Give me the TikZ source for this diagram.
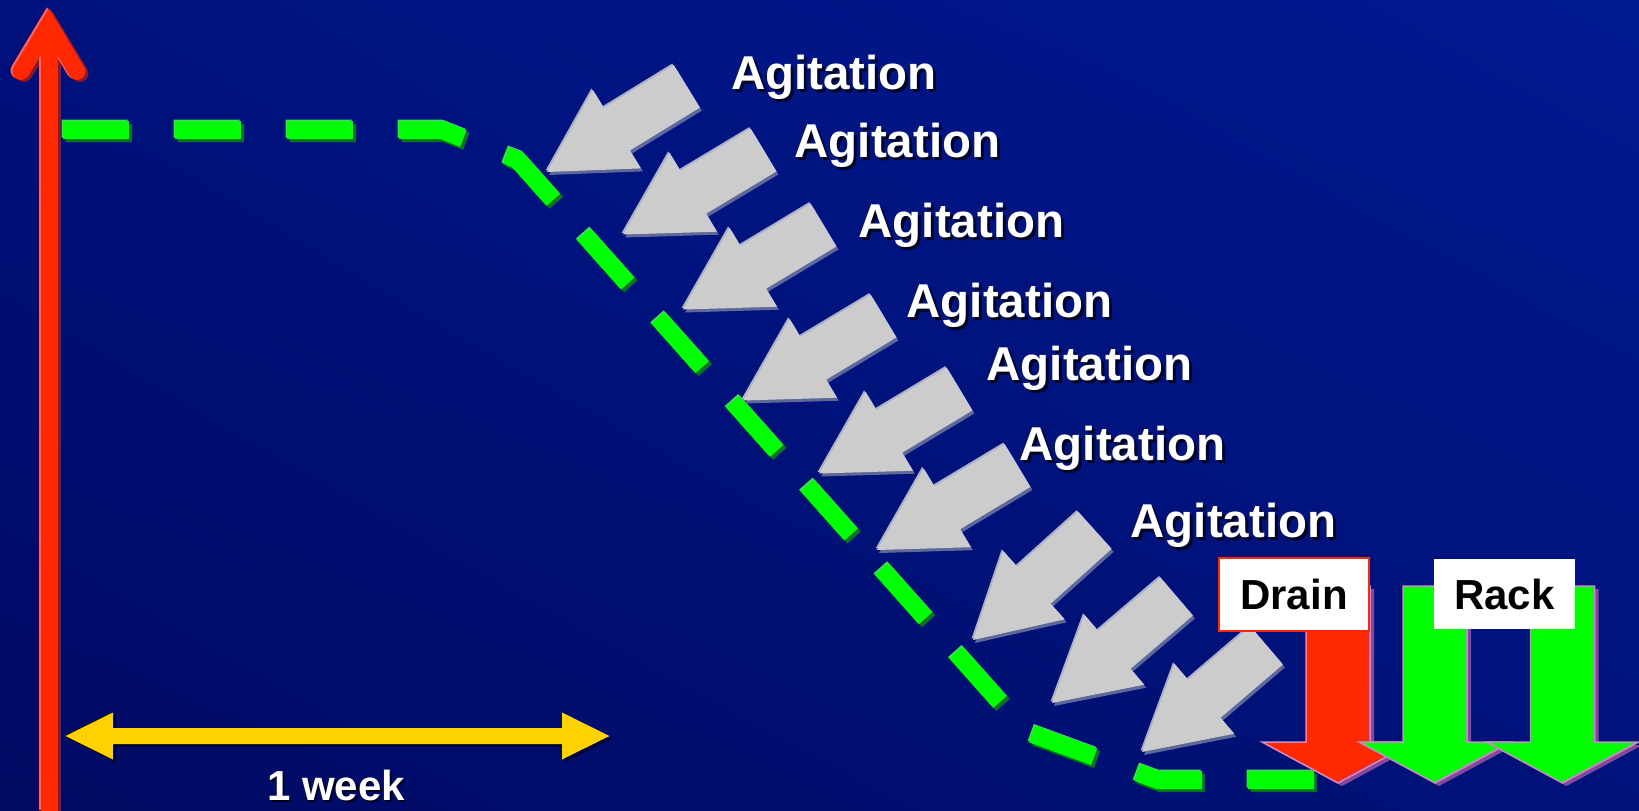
\documentclass[tikz,border=0pt]{standalone}
\usepackage{fontspec}
\setmainfont{Liberation Sans}
\usetikzlibrary{shadings}
\definecolor{bgUL}{RGB}{0,17,125}
\definecolor{bgUR}{RGB}{0,26,145}
\definecolor{bgLL}{RGB}{0,10,98}
\definecolor{bgLR}{RGB}{0,18,122}
\definecolor{axred}{RGB}{255,40,0}
\definecolor{axredsh}{RGB}{150,20,30}
\definecolor{axredhl}{RGB}{215,110,140}
\definecolor{dgreen}{RGB}{0,255,0}
\definecolor{dgreensh}{RGB}{0,120,20}
\definecolor{dgreenhl}{RGB}{90,200,120}
\definecolor{ggray}{RGB}{204,204,204}
\definecolor{ggraysh}{RGB}{95,105,150}
\definecolor{ggrayhl}{RGB}{165,175,215}
\definecolor{wyellow}{RGB}{255,210,0}
\definecolor{dpurple}{RGB}{140,70,150}
\definecolor{dlav}{RGB}{200,140,205}
\begin{document}
\begin{tikzpicture}[x=1pt,y=-1pt,
  lbl/.style={text=white, font=\fontsize{47.5}{50}\selectfont\bfseries, inner sep=0pt, anchor=base},
  lblsh/.style={text=black, opacity=0.75, font=\fontsize{47.5}{50}\selectfont\bfseries, inner sep=0pt, anchor=base},
  boxtext/.style={font=\fontsize{42}{44}\selectfont\bfseries, text=black, inner sep=0pt, fill=white},
  greendash/.style={line width=18pt, dash pattern=on 66pt off 46pt, line join=miter},
  redline/.style={line width=17pt, line join=miter},
  downarrow/.style={draw=dlav, line width=1.5pt}]
\useasboundingbox (0,0) rectangle (1639,811);
\shade[upper left=bgUL, upper right=bgUR, lower left=bgLL, lower right=bgLR] (0,0) rectangle (1639,811);

% vertical red axis arrow
\begin{scope}[shift={(3,2)}]
  \draw[redline, axredsh] (49,40) -- (49,811);
  \draw[redline, axredsh, line cap=round] (21,71.5) -- (49,24.8) -- (77,71.5);
\end{scope}
\begin{scope}[shift={(-2,-1)}]
  \draw[redline, axredhl] (49,40) -- (49,811);
  \draw[redline, axredhl, line cap=round] (21,71.5) -- (49,24.8) -- (77,71.5);
\end{scope}
\draw[redline, axred] (49,40) -- (49,811);
\draw[redline, axred, line cap=round] (21,71.5) -- (49,24.8) -- (77,71.5);

% green dashed curve
\foreach \dx/\dy/\c in {3/3/dgreensh, -1.5/-1.5/dgreenhl, 0/0/dgreen} {
  \draw[greendash, \c, shift={(\dx,\dy)}] (63,130) -- (442,130) -- (518,160) -- (1027,732) -- (1158,780) -- (1314,780);
}

% gray agitation arrows
\foreach \tx/\ty/\a in {547/172/31.5, 623/234.5/31, 683/309.5/31, 743/400.5/31, 819/473.5/31, 877/550/31, 973/640/42, 1052/703/40.5, 1142/752/40.5} {
  \foreach \dx/\dy/\c in {2/3/ggraysh, -1.5/-1.5/ggrayhl, 0/0/ggray} {
    \fill[\c, shift={(\tx+\dx,\ty+\dy)}, rotate=\a] (0,0) -- (82,46) -- (82,25) -- (164,25) -- (164,-25) -- (82,-25) -- (82,-46) -- cycle;
  }
}

% labels
\foreach \n/\cx/\by in {1/834/89, 2/897.5/157, 3/961.5/237, 4/1009.5/317, 5/1089.5/380, 6/1122.5/460, 7/1233.5/537} {
  \node[lblsh] (ags\n) at (\cx+3,\by+3) {Agitation};
  \node[lbl] (ag\n) at (\cx,\by) {Agitation};
}

% drain / rack arrows
\foreach \cx/\c in {1338/axred, 1435/dgreen, 1562.5/dgreen} {
  \fill[dpurple, shift={(4,3)}] (\cx-32,586) -- (\cx+32,586) -- (\cx+32,742) -- (\cx+76,742) -- (\cx,783) -- (\cx-76,742) -- (\cx-32,742) -- cycle;
  \filldraw[downarrow, fill=\c] (\cx-32,586) -- (\cx+32,586) -- (\cx+32,742) -- (\cx+76,742) -- (\cx,783) -- (\cx-76,742) -- (\cx-32,742) -- cycle;
}

\node[boxtext, draw=axred, line width=2.5pt, minimum width=150pt, minimum height=73pt] (drain) at (1294,594.5) {Drain};
\node[boxtext, minimum width=141pt, minimum height=70pt] (rack) at (1504.5,594) {Rack};

% one week arrow
\fill[black, opacity=0.5, shift={(3,3)}] (65.5,736) -- (113,712.5) -- (113,728) -- (562,728) -- (562,712.5) -- (609.5,736) -- (562,759.5) -- (562,744) -- (113,744) -- (113,759.5) -- cycle;
\fill[wyellow] (65.5,736) -- (113,712.5) -- (113,728) -- (562,728) -- (562,712.5) -- (609.5,736) -- (562,759.5) -- (562,744) -- (113,744) -- (113,759.5) -- cycle;
\node[lblsh, font=\fontsize{42}{44}\selectfont\bfseries] (weeks) at (338.5,802.5) {1 week};
\node[lbl, font=\fontsize{42}{44}\selectfont\bfseries] (week) at (336,800) {1 week};
\end{tikzpicture}
\end{document}
